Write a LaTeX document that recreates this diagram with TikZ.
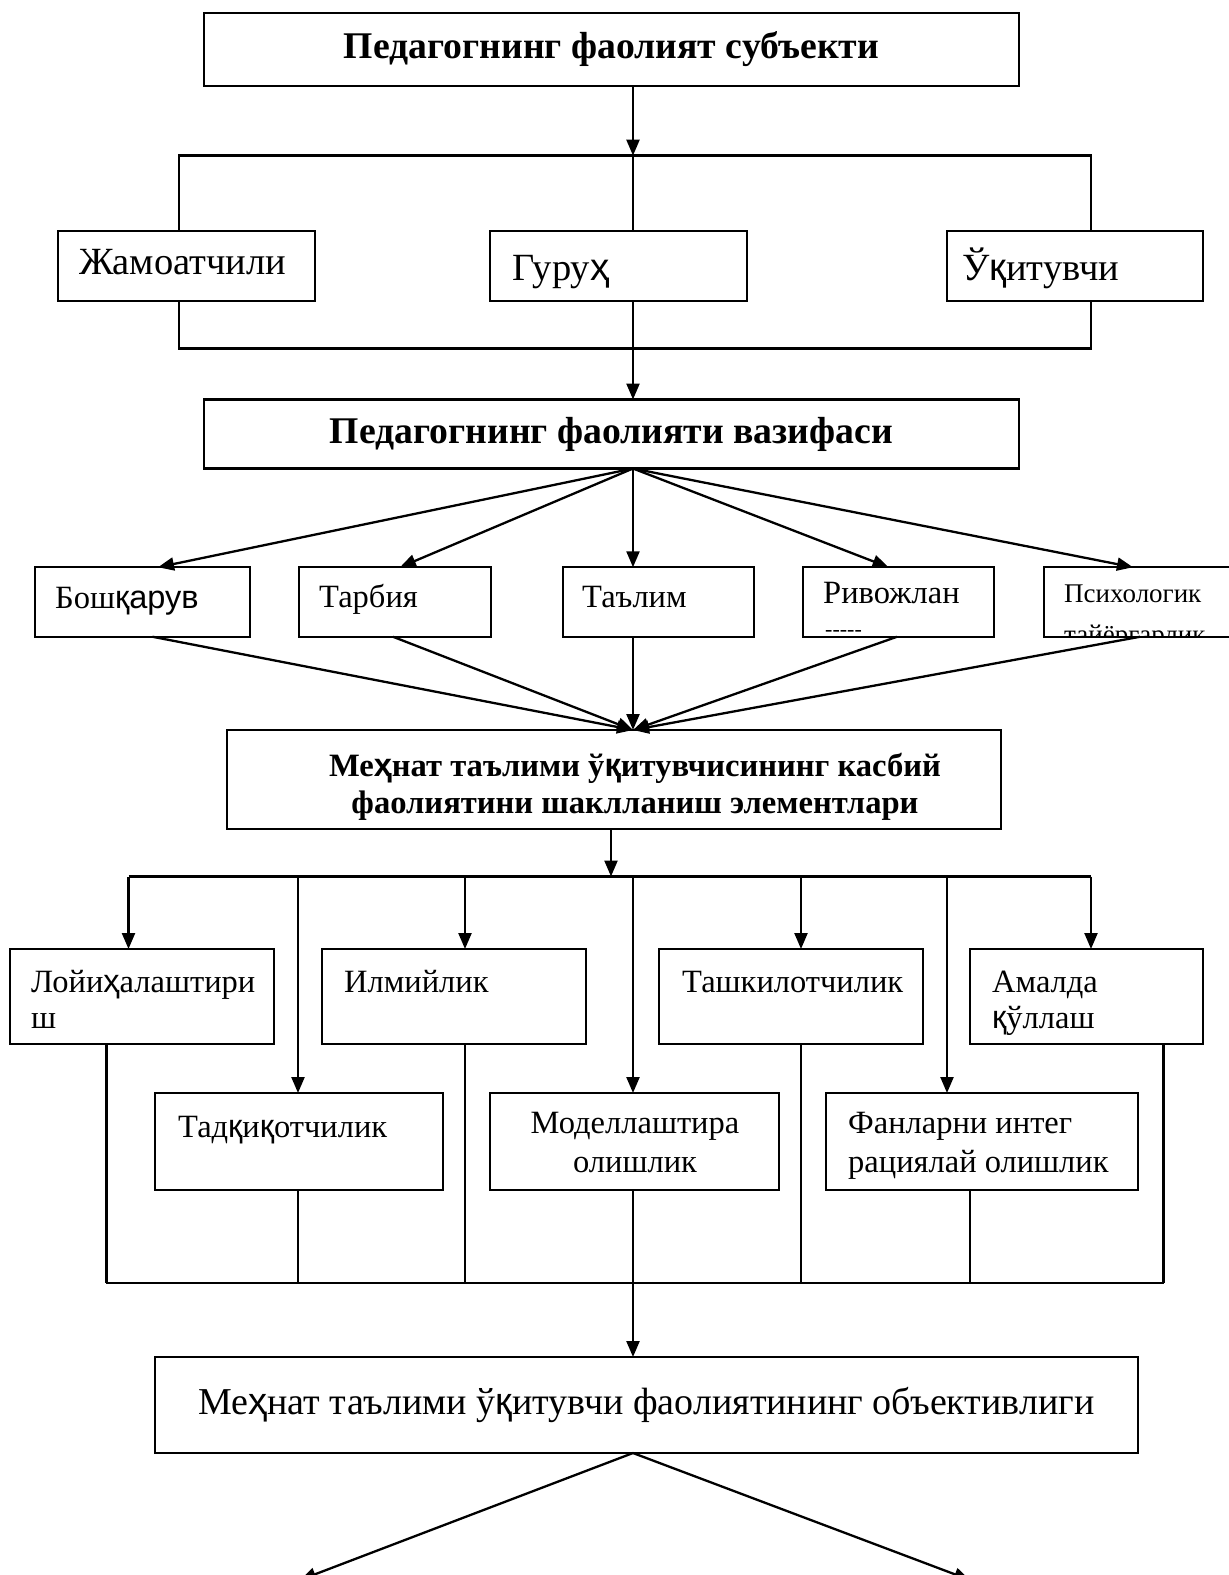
\documentclass[tikz,border=0pt]{standalone}
\usepackage{fontspec}
\setmainfont{Liberation Serif}
\newfontfamily\fb{Liberation Sans}
\usepackage{tikz}
\usetikzlibrary{arrows.meta,calc}

\newcommand{\qk}{{\fb қ}}
\newcommand{\hx}{{\fb ҳ}}
\newcommand{\hdfont}{\fontsize{37.7}{40}\selectfont\bfseries}
\newcommand{\lbfont}{\fontsize{38.5}{37}\selectfont}
\newcommand{\rwfont}{\fontsize{32.5}{36}\selectfont}
\newcommand{\kbfont}{\fontsize{32.6}{37.5}\selectfont\bfseries}
\newcommand{\obfont}{\fontsize{38}{44}\selectfont}
\newcommand{\smfont}{\fontsize{27}{28}\selectfont}

\begin{document}
\begin{tikzpicture}[x=1pt, y=-1pt,
    box/.style={draw, line width=2.3pt, fill=white, inner sep=0pt, outer sep=0pt},
    lbl/.style={inner sep=0pt, anchor=base west, align=left, font=\lbfont},
    rw/.style={lbl, font=\rwfont},
    ln/.style={line width=2.3pt},
    arr/.style={line width=2.3pt, -{Triangle[length=16pt, width=13pt]}}]
    \useasboundingbox (0,0) rectangle (1229,1575);

    % Subject
    \node[box, minimum width=815pt, minimum height=73pt, font=\hdfont] (subj) at (611.5,49.5) {Педагогнинг фаолият субъекти};

    \node[box, minimum width=257pt, minimum height=70pt] (jam) at (186.5,266) {};
    \node[box, minimum width=257pt, minimum height=70pt] (guruh) at (618.5,266) {};
    \node[box, minimum width=256pt, minimum height=70pt] (ukt) at (1075,266) {};
    \node[lbl] (jamT) at (79,274) {Жамоатчили};
    \node[lbl] (guruhT) at (512,280) {Гуру\hx};
    \node[lbl] (uktT) at (962,280) {Ў\qk итувчи};

    \coordinate (fA) at (633,155.6);
    \coordinate (fB) at (633,348.4);
    \draw[arr] (subj.south -| fA) -- (fA);
    \draw[ln] (jam.north -| 178.7,0) |- (fA) -| (ukt.north -| 1091,0);
    \draw[ln] (jam.south -| 178.7,0) |- (fB) -| (ukt.south -| 1091,0);
    \draw[ln] (fA) -- (guruh.north -| fA);
    \draw[ln] (guruh.south -| fA) -- (fB);

    % Functions
    \node[box, minimum width=815pt, minimum height=69pt, font=\hdfont] (fun) at (611.5,434) {Педагогнинг фаолияти вазифаси};
    \draw[arr] (fB) -- (fun.north -| fB);

    \node[box, minimum width=215pt, minimum height=69.5pt] (bosh) at (142.5,602) {};
    \node[box, minimum width=192pt, minimum height=69.5pt] (tarb) at (395,602) {};
    \node[box, minimum width=191pt, minimum height=69.5pt] (tal) at (658.5,602) {};
    \node[box, minimum width=191pt, minimum height=69.5pt] (riv) at (898.5,602) {};
    \node[box, minimum width=200pt, minimum height=69.5pt] (psy) at (1144,602) {};
    \node[rw] (boshT) at (55,608) {Бош{\fb қарув}};
    \node[rw] (tarbT) at (319,607) {Тарбия};
    \node[rw] (talT) at (582,607) {Таълим};
    \begin{scope}
        \clip (riv.north west) rectangle (riv.south east);
        \node[rw] (rivT) at (823,603) {Ривожлан};
        \node[lbl, font=\fontsize{22}{24}\selectfont] (rivD) at (825,636) {-{}-{}-{}-{}-};
    \end{scope}
    \begin{scope}
        \clip (psy.north west) rectangle (psy.south east);
        \node[lbl, font=\smfont] (psyT) at (1064,602) {Психологик};
        \node[lbl, font=\smfont] (psyD) at (1064,643) {тайёргарлик};
    \end{scope}

    \foreach \n/\dx in {bosh/15.5, tarb/5, tal/-25.5, riv/-10, psy/-11}
        \draw[arr] (fun.south -| fA) -- ([xshift=\dx pt]\n.north);

    % Elements
    \node[box, minimum width=774pt, minimum height=99pt] (kasb) at (614,779.5) {};
    \node[inner sep=0pt, align=center, font=\kbfont] (kasbT) at (635,787) {Ме\hx нат таълими ў\qk итувчисининг касбий\\фаолиятини шаклланиш элементлари};
    \foreach \n/\dx in {bosh/10, tarb/-2, tal/-25.5, riv/-1.5, psy/-4}
        \draw[arr] ([xshift=\dx pt]\n.south) -- (kasb.north -| fA);

    \node[box, minimum width=264pt, minimum height=95pt] (loy) at (142,996.5) {};
    \node[box, minimum width=264pt, minimum height=95pt] (ilm) at (454,996.5) {};
    \node[box, minimum width=264pt, minimum height=95pt] (tash) at (791,996.5) {};
    \node[box, minimum width=233pt, minimum height=95pt] (amal) at (1086.5,996.5) {};
    \node[box, minimum width=288pt, minimum height=97pt] (tad) at (299,1141.5) {};
    \node[box, minimum width=289pt, minimum height=97pt] (mod) at (634.5,1141.5) {};
    \node[box, minimum width=312pt, minimum height=97pt] (fan) at (982,1141.5) {};
    \node[rw] (loyT) at (31,1028) {Лойи\hx алаштири\\ш}; % base = last line
    \node[rw] (ilmT) at (344,992) {Илмийлик};
    \node[rw] (tashT) at (682,992) {Ташкилотчилик};
    \node[rw] (amalT) at (992,1028) {Амалда\\\qk ўллаш};
    \node[rw] (tadT) at (178,1137) {Тад\qk и\qk отчилик};
    \node[rw, anchor=base, align=center, font=\fontsize{32.5}{39}\selectfont] (modT) at (635,1172) {Моделлаштира\\олишлик};
    \node[rw, font=\fontsize{32.5}{39}\selectfont] (fanT) at (848,1172) {Фанларни интег\\рациялай олишлик};

    \coordinate (eA) at (611,876.5);
    \draw[arr] (kasb.south -| eA) -- (eA);
    \draw[ln] (128.5,876.5) -- (1091,876.5);
    \foreach \n/\dx in {loy/-13.5, ilm/11, tash/10, amal/4.5, tad/-1, mod/-1.5, fan/-35}
        \draw[arr] ([xshift=\dx pt]\n.north |- eA) -- ([xshift=\dx pt]\n.north);

    % Object
    \coordinate (gA) at (633,1283);
    \foreach \n/\dx in {loy/-35.6, ilm/11, tash/10, amal/77, tad/-1, mod/-1.5, fan/-12}
        \draw[ln] ([xshift=\dx pt]\n.south) -- ([xshift=\dx pt]\n.south |- gA);
    \draw[ln] ([xshift=-35.6pt]loy.south |- gA) -- ([xshift=77pt]amal.south |- gA);

    \node[box, minimum width=983pt, minimum height=96pt, font=\obfont] (obj) at (646.5,1405) {Ме\hx нат таълими ў\qk итувчи фаолиятининг объективлиги};
    \draw[arr] (gA) -- (obj.north -| gA);

    \coordinate (hL) at (300,1580);
    \coordinate (hR) at (970,1580);
    \draw[arr] (obj.south -| gA) -- (hL);
    \draw[arr] (obj.south -| gA) -- (hR);
\end{tikzpicture}
\end{document}
